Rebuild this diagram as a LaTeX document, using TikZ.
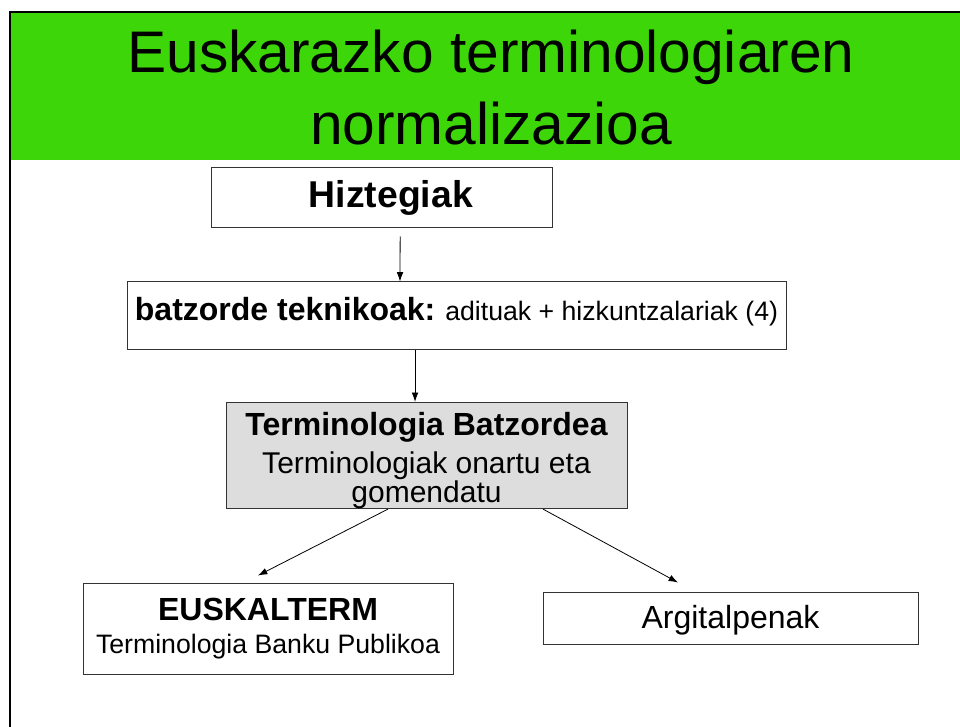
\documentclass[tikz,border=0pt]{standalone}
\usepackage{fontspec}
\setmainfont{Liberation Sans}
\usetikzlibrary{arrows.meta}

\definecolor{titlegreen}{HTML}{3DD608}
\definecolor{boxgray}{HTML}{DDDDDD}

\tikzset{
	box/.style={draw=black!80, line width=0.75pt, align=center, inner sep=0pt},
	arr/.style={-{Latex[length=7pt,width=5pt]}, line width=0.6pt},
}

\begin{document}
\begin{tikzpicture}[x=0.75pt, y=-0.75pt]

	\useasboundingbox (0,0) rectangle (960,727);

	% title band
	\fill [titlegreen] (10,12) rectangle (960,160);
	\draw [line width=1.5pt] (10,727) -- (10,12) -- (960,12);
	\node [anchor=base, align=center, font=\fontsize{44}{54}\selectfont] (title) at (491,145)
		{Euskarazko terminologiaren\\normalizazioa};

	% boxes
	\node [box, minimum width=255.75pt, minimum height=45pt, font=\fontsize{28}{34}\selectfont\bfseries] (hizt) at (381.5,198)
		{\hspace*{14pt}Hiztegiak};
	\node [box, minimum width=494.25pt, minimum height=50.25pt, text depth=10pt, font=\fontsize{20}{24}\selectfont] (batz) at (456.5,315.5)
		{{\fontsize{24}{28}\selectfont\bfseries batzorde teknikoak:} adituak + hizkuntzalariak (4)};
	\node [box, fill=boxgray, minimum width=300.75pt, minimum height=78.75pt, text height=75pt, font=\fontsize{22.5}{21.75}\selectfont] (tb) at (426.5,455.5)
		{{\fontsize{24}{21.75}\selectfont\bfseries Terminologia Batzordea}\\[6.75pt]
		 Terminologiak onartu eta\\gomendatu};
	\node [box, minimum width=277.5pt, minimum height=68.25pt, font=\fontsize{20}{25}\selectfont] (eusk) at (268,628.5)
		{{\fontsize{24}{25}\selectfont\bfseries EUSKALTERM}\\
		 Terminologia Banku Publikoa};
	\node [box, minimum width=281.25pt, minimum height=39pt, text depth=1.5pt, font=\fontsize{24}{28}\selectfont] (argit) at (730.5,618)
		{Argitalpenak};

	% arrows
	\draw [arr] ([xshift=14pt,yshift=-6pt]hizt.south) -- ([xshift=-42.4pt]batz.north);
	\draw [arr] ([xshift=-31.1pt]batz.south) -- ([xshift=-8.6pt]tb.north);
	\draw [arr] ([xshift=-28.9pt]tb.south) -- ([xshift=-7.5pt,yshift=5.25pt]eusk.north);
	\draw [arr] ([xshift=87.4pt]tb.south) -- ([xshift=-39.4pt,yshift=6.75pt]argit.north);

\end{tikzpicture}
\end{document}
